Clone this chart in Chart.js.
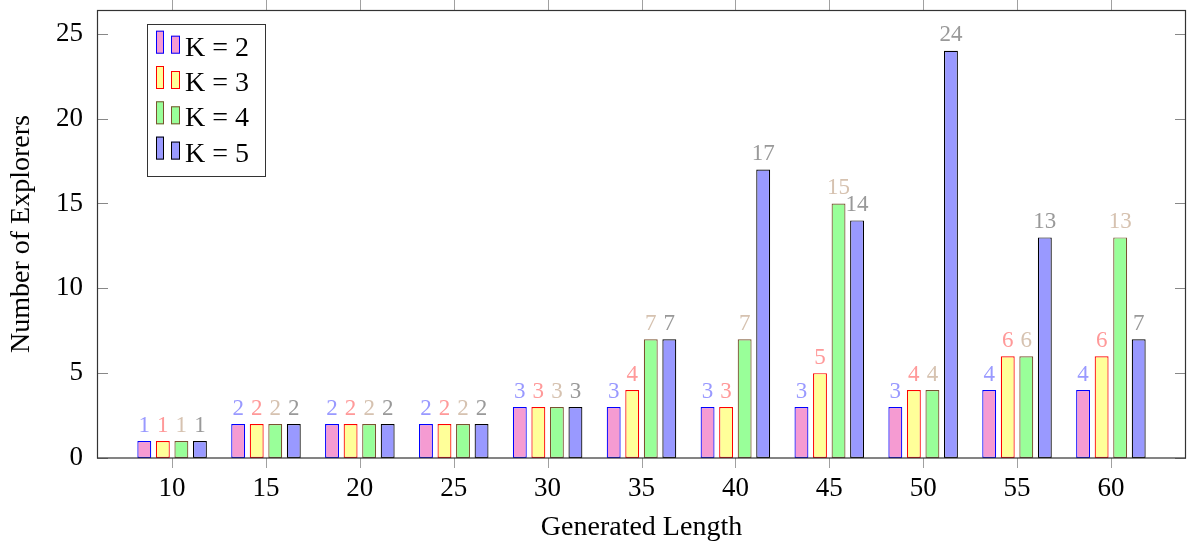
<!DOCTYPE html>
<html><head><meta charset="utf-8">
<script src="https://cdn.jsdelivr.net/npm/chart.js@4/dist/chart.umd.min.js"></script>
<style>html,body{margin:0;padding:0;background:#fff}#wrap{width:1189px;height:544px;position:relative}</style>
</head><body><div id="wrap"><canvas id="c"></canvas></div>
<script>
const categories = [10, 15, 20, 25, 30, 35, 40, 45, 50, 55, 60];
const k2 = [1, 2, 2, 2, 3, 3, 3, 3, 3, 4, 4];
const k3 = [1, 2, 2, 2, 3, 4, 3, 5, 4, 6, 6];
const k4 = [1, 2, 2, 2, 3, 7, 7, 15, 4, 6, 13];
const k5 = [1, 2, 2, 2, 3, 7, 17, 14, 24, 13, 7];
const seriesNames = ['K = 2', 'K = 3', 'K = 4', 'K = 5'];
const yTicks = [0, 5, 10, 15, 20, 25];

const fills = ['#F59BD2', '#FFFF99', '#99FF99', '#9999FF'];
const borders = ['#0000FF', '#FF0000', '#7A5230', '#000000'];
const labelColors = ['#9999FF', '#FF9999', '#D6C2B0', '#999999'];
const SERIF = '"Liberation Serif", "Times New Roman", serif';

const allSeries = [k2, k3, k4, k5];
const datasets = allSeries.map((s, i) => ({
  label: seriesNames[i],
  data: categories.map((c, j) => ({x: c, y: s[j]})),
  backgroundColor: fills[i],
  borderColor: borders[i],
  borderWidth: 1.2,
  borderSkipped: false,
  categoryPercentage: 0.79,
  barPercentage: 0.75
}));

const framePlugin = {
  id: 'frame',
  afterDraw(chart) {
    const ctx = chart.ctx, a = chart.chartArea;
    const xs = chart.scales.x, ys = chart.scales.y;
    ctx.save();
    ctx.lineWidth = 1;
    ctx.strokeStyle = '#A0A0A0';
    categories.forEach(c => {
      const px = Math.round(xs.getPixelForValue(c)) + 0.5;
      ctx.beginPath(); ctx.moveTo(px, a.bottom); ctx.lineTo(px, a.bottom + 10); ctx.stroke();
      ctx.beginPath(); ctx.moveTo(px, a.top); ctx.lineTo(px, a.top - 10); ctx.stroke();
    });
    ctx.strokeStyle = '#888888';
    yTicks.forEach(v => {
      const py = Math.round(ys.getPixelForValue(v)) + 0.5;
      ctx.beginPath(); ctx.moveTo(a.left, py); ctx.lineTo(a.left + 11, py); ctx.stroke();
      ctx.beginPath(); ctx.moveTo(a.right, py); ctx.lineTo(a.right - 11, py); ctx.stroke();
    });
    ctx.strokeStyle = '#333333';
    ctx.lineWidth = 1.2;
    ctx.strokeRect(Math.round(a.left) + 0.5, Math.round(a.top) + 0.5, Math.round(a.right - a.left) - 1, Math.round(a.bottom - a.top) - 0.5);
    ctx.font = '23px ' + SERIF;
    ctx.textAlign = 'center';
    ctx.textBaseline = 'alphabetic';
    chart.data.datasets.forEach((ds, i) => {
      const meta = chart.getDatasetMeta(i);
      ctx.fillStyle = labelColors[i];
      meta.data.forEach((bar, j) => {
        ctx.fillText(String(allSeries[i][j]), bar.x, bar.y - 9.5);
      });
    });
    ctx.fillStyle = '#ffffff';
    ctx.fillRect(147, 24, 118, 152);
    ctx.strokeStyle = '#333333';
    ctx.lineWidth = 1;
    ctx.strokeRect(147.5, 24.5, 118, 152);
    ctx.font = '28px ' + SERIF;
    ctx.textAlign = 'left';
    seriesNames.forEach((name, i) => {
      const base = 55.7 + 35.3 * i;
      ctx.fillStyle = fills[i];
      ctx.strokeStyle = borders[i];
      ctx.fillRect(156, base - 25, 8, 23);
      ctx.strokeRect(156.5, base - 24.5, 7, 22);
      ctx.fillRect(171, base - 20, 9, 18);
      ctx.strokeRect(171.5, base - 19.5, 8, 17);
      ctx.fillStyle = '#000000';
      ctx.fillText(name, 185, base);
    });
    ctx.restore();
  }
};

new Chart(document.getElementById('c'), {
  type: 'bar',
  data: {datasets},
  plugins: [framePlugin],
  options: {
    responsive: true,
    maintainAspectRatio: false,
    animation: false,
    devicePixelRatio: 1,
    layout: {padding: {top: 10, right: 3, left: 0, bottom: 0}},
    plugins: {legend: {display: false}, tooltip: {enabled: false}},
    scales: {
      x: {
        type: 'linear',
        min: 6, max: 64,
        offset: false,
        grid: {display: false, drawTicks: false, offset: false},
        border: {display: false},
        afterBuildTicks: s => { s.ticks = categories.map(v => ({value: v})); },
        afterFit: s => { s.height = 86; s.paddingLeft = 0; s.paddingRight = 0; },
        ticks: {padding: 15, color: '#000', font: {family: SERIF, size: 27}, autoSkip: false, maxRotation: 0},
        title: {display: true, text: 'Generated Length', color: '#000', font: {family: SERIF, size: 28}, padding: {top: 0, bottom: 0}}
      },
      y: {
        type: 'linear',
        min: 0, max: 26.4,
        grid: {display: false, drawTicks: false},
        border: {display: false},
        afterBuildTicks: s => { s.ticks = yTicks.map(v => ({value: v})); },
        afterFit: s => { s.width = 97; s.paddingTop = 0; s.paddingBottom = 0; },
        ticks: {padding: 14, color: '#000', font: {family: SERIF, size: 27}},
        title: {display: true, text: 'Number of Explorers', color: '#000', font: {family: SERIF, size: 28}, padding: {top: 5, bottom: 0}}
      }
    }
  }
});
</script></body></html>
